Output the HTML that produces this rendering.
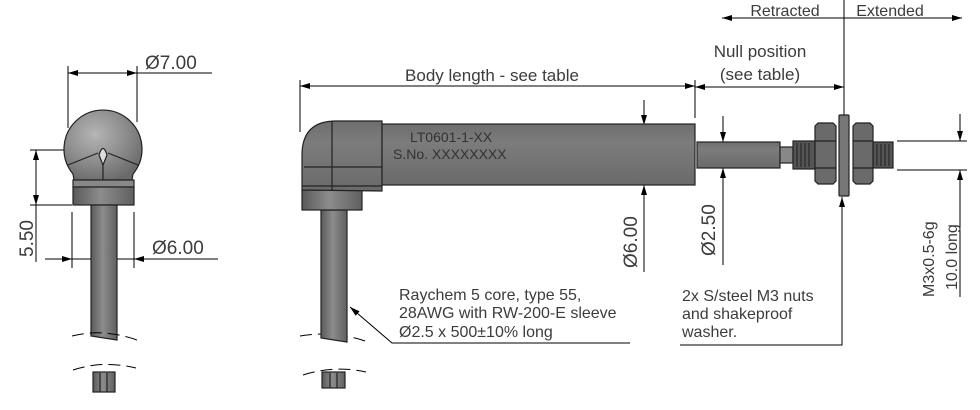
<!DOCTYPE html>
<html><head><meta charset="utf-8"><style>
html,body{margin:0;padding:0;background:#fff;width:980px;height:410px;overflow:hidden}
svg{display:block}
text{font-family:"Liberation Sans","DejaVu Sans",sans-serif;fill:#3c3c3c}
</style></head><body>
<svg width="980" height="410" viewBox="0 0 980 410" xmlns="http://www.w3.org/2000/svg">
<defs>
<linearGradient id="cv" x1="0" x2="1"><stop offset="0" stop-color="#5a5a5a"/><stop offset="0.45" stop-color="#8c8c8c"/><stop offset="1" stop-color="#606060"/></linearGradient>
<linearGradient id="bd" x1="0" y1="0" x2="0" y2="1"><stop offset="0" stop-color="#6e6e6e"/><stop offset="0.3" stop-color="#7c7c7c"/><stop offset="1" stop-color="#6a6a6a"/></linearGradient>
<radialGradient id="ball" cx="0.4" cy="0.35" r="0.7"><stop offset="0" stop-color="#b5b5b5"/><stop offset="0.6" stop-color="#8a8a8a"/><stop offset="1" stop-color="#6a6a6a"/></radialGradient>
<marker id="a" viewBox="0 0 10 6" refX="10" refY="3" markerWidth="12" markerHeight="6" markerUnits="userSpaceOnUse" orient="auto-start-reverse"><path d="M0,0 L10,3 L0,6 z" fill="#000"/></marker>
</defs>
<g stroke="#000" stroke-width="1" fill="none">
<line x1="68" y1="66" x2="68" y2="128"/><line x1="137" y1="66" x2="137" y2="122"/>
<line x1="68" y1="73" x2="137" y2="73" marker-start="url(#a)" marker-end="url(#a)"/>
<line x1="137" y1="73" x2="212" y2="73"/>
<line x1="30" y1="150" x2="103" y2="150"/><line x1="30" y1="205" x2="72" y2="205"/>
<line x1="36" y1="150" x2="36" y2="205" marker-start="url(#a)" marker-end="url(#a)"/>
<line x1="36" y1="205" x2="36" y2="262"/>
<line x1="72" y1="212" x2="72" y2="268"/><line x1="134" y1="212" x2="134" y2="268"/>
<line x1="45" y1="259" x2="218" y2="259"/>
<line x1="58" y1="259" x2="72" y2="259" marker-end="url(#a)"/>
<line x1="148" y1="259" x2="134" y2="259" marker-end="url(#a)"/>
</g>
<g stroke="#222" stroke-width="1.2">
<path d="M74,180 L73,174 A39,39 0 1 1 133,174 L132,180 Z" fill="url(#ball)"/>
<path d="M68,165 L98,153 M108,153 L138,165" fill="none"/>
<path d="M99,155 Q103,142 107,155 L103,165 Z" fill="#ddd"/>
<line x1="103" y1="165" x2="103" y2="182"/>
<rect x="73" y="180" width="61" height="7" fill="#888"/>
<rect x="73" y="187" width="61" height="18" fill="url(#cv)"/>
<path d="M91,205 V336 L117,340 V205 Z" fill="url(#cv)"/>
<rect x="93" y="372" width="22" height="20" fill="url(#cv)"/>
<line x1="100" y1="373" x2="100" y2="392"/><line x1="107" y1="373" x2="107" y2="392"/>
</g>
<g stroke="#000" stroke-width="1" fill="none" stroke-dasharray="12,6">
<path d="M72,336 Q103,328 137,340"/><path d="M73,370 Q103,360 136,368"/>
<path d="M300,336 Q335,330 368,342"/><path d="M303,375 Q335,365 366,372"/>
</g>
<text x="145" y="69" font-size="19">Ø7.00</text>
<text x="152" y="254" font-size="19">Ø6.00</text>
<text transform="translate(33,257) rotate(-90)" font-size="19">5.50</text>

<g stroke="#000" stroke-width="1" fill="none">
<line x1="300" y1="80" x2="300" y2="132"/><line x1="695" y1="80" x2="695" y2="118"/>
<line x1="300" y1="86" x2="695" y2="86" marker-start="url(#a)" marker-end="url(#a)"/>
<line x1="695" y1="87" x2="844" y2="87" marker-start="url(#a)" marker-end="url(#a)"/>
<line x1="844" y1="0" x2="844" y2="115"/>
<line x1="722" y1="18" x2="962" y2="18" marker-start="url(#a)" marker-end="url(#a)"/>
<line x1="644" y1="100" x2="644" y2="125" marker-end="url(#a)"/>
<line x1="644" y1="272" x2="644" y2="185" marker-end="url(#a)"/>
<line x1="644" y1="125" x2="644" y2="185"/>
<line x1="723" y1="116" x2="723" y2="142" marker-end="url(#a)"/>
<line x1="723" y1="265" x2="723" y2="168" marker-end="url(#a)"/>
<line x1="723" y1="142" x2="723" y2="168"/>
<line x1="897" y1="141" x2="967" y2="141"/><line x1="897" y1="170" x2="967" y2="170"/>
<line x1="960" y1="114" x2="960" y2="141" marker-end="url(#a)"/>
<line x1="960" y1="297" x2="960" y2="170" marker-end="url(#a)"/>
<polyline points="630,343 392,343 350,307" marker-end="url(#a)"/>
<polyline points="680,345 842,345 842,197" marker-end="url(#a)"/>
</g>
<g stroke="#222" stroke-width="1.2">
<path d="M321,210 V338 L347,342 V210 Z" fill="url(#cv)"/>
<rect x="302" y="190" width="60" height="20" fill="url(#cv)"/>
<path d="M302,190 V155 Q302,121 336,121 H382 V191 Z" fill="url(#bd)"/>
<line x1="332" y1="121" x2="332" y2="191"/><line x1="304" y1="167" x2="382" y2="167"/>
<line x1="302" y1="186" x2="382" y2="186"/>
<rect x="382" y="124" width="313" height="61" fill="url(#bd)"/>
<rect x="697" y="142" width="83" height="26" fill="url(#bd)"/>
<rect x="780" y="147" width="13" height="16" fill="#888"/>
<rect x="793" y="141" width="22" height="28" fill="#555"/>
<rect x="873" y="142" width="20" height="26" fill="#555"/>
<path d="M815,126 L818,123 H833 L836,126 V181 L833,184 H818 L815,181 Z" fill="#6a6a6a"/>
<path d="M853,126 L856,123 H870 L873,126 V181 L870,184 H856 L853,181 Z" fill="#6a6a6a"/>
<line x1="815" y1="141" x2="836" y2="141"/><line x1="815" y1="168" x2="836" y2="168"/>
<line x1="853" y1="141" x2="873" y2="141"/><line x1="853" y1="168" x2="873" y2="168"/>
<rect x="839" y="115" width="10" height="81" rx="1" fill="#777"/>
<rect x="322" y="372" width="23" height="16" fill="url(#cv)"/>
<line x1="330" y1="373" x2="330" y2="388"/><line x1="337" y1="373" x2="337" y2="388"/>
</g>
<g stroke="#2a2a2a" stroke-width="1.2">
<path d="M797,143 V167 M801,143 V167 M805,143 V167 M809,143 V167 M877,144 V166 M881,144 V166 M885,144 V166 M889,144 V166"/>
</g>
<text x="410" y="142" font-size="14" style="fill:#333">LT0601-1-XX</text>
<text x="393" y="159" font-size="14" style="fill:#333">S.No. XXXXXXXX</text>
<text x="492" y="81" font-size="17" text-anchor="middle">Body length - see table</text>
<text x="760" y="57" font-size="17" text-anchor="middle">Null position</text>
<text x="760" y="80" font-size="17" text-anchor="middle">(see table)</text>
<text x="785" y="16" font-size="16" text-anchor="middle">Retracted</text>
<text x="890" y="16" font-size="16" text-anchor="middle">Extended</text>
<text transform="translate(637,268) rotate(-90)" font-size="19">Ø6.00</text>
<text transform="translate(715,256) rotate(-90)" font-size="19">Ø2.50</text>
<text transform="translate(934,297) rotate(-90)" font-size="16">M3x0.5-6g</text>
<text transform="translate(957,290) rotate(-90)" font-size="16">10.0 long</text>
<text x="399" y="300" font-size="16">Raychem 5 core, type 55,</text>
<text x="399" y="318" font-size="16">28AWG with RW-200-E sleeve</text>
<text x="399" y="337" font-size="16">Ø2.5 x 500±10% long</text>
<text x="682" y="301" font-size="16">2x S/steel M3 nuts</text>
<text x="682" y="319" font-size="16">and shakeproof</text>
<text x="682" y="337" font-size="16">washer.</text>
</svg>
</body></html>
